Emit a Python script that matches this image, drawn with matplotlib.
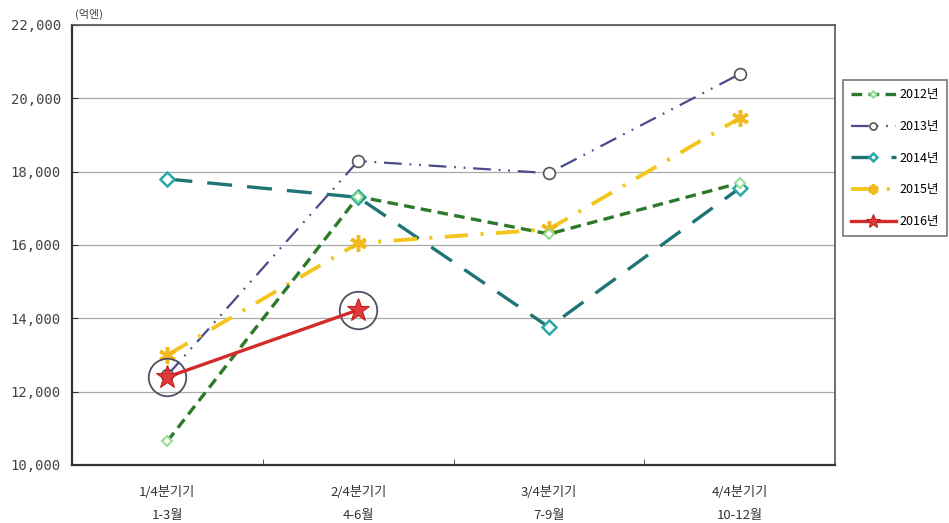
import matplotlib
matplotlib.use("Agg")
import matplotlib.pyplot as plt
from matplotlib.ticker import FuncFormatter

plt.rcParams['font.family'] = ['Noto Sans CJK KR', 'DejaVu Sans']

quarters = ["1/4분기기\n1-3월", "2/4분기기\n4-6월", "3/4분기기\n7-9월", "4/4분기기\n10-12월"]
y2012 = [10650, 17320, 16300, 17690]
y2013 = [12450, 18290, 17960, 20660]
y2014 = [17800, 17300, 13760, 17550]
y2015 = [13000, 16050, 16430, 19460]
y2016 = [12400, 14230]
yticks = [10000, 12000, 14000, 16000, 18000, 20000, 22000]

fig = plt.figure(figsize=(9.49, 5.23), dpi=100)
ax = fig.add_axes([0.0759, 0.1109, 0.8040, 0.8413])

x = list(range(len(quarters)))

ax.plot(x, y2012, color='#2b7a2b', lw=2.4, dashes=(3.2, 1.9),
        marker='D', ms=5.5, mfc='white', mec='#8fdc8f', mew=1.4,
        label='2012년', zorder=4)
ax.plot(x, y2013, color='#4a4a8c', lw=1.6, dashes=(8, 3.5, 0.8, 3.5, 0.8, 3.5),
        marker='o', ms=8.5, mfc='white', mec='#555555', mew=1.2,
        label='2013년', zorder=3)
ax.plot(x, y2014, color='#1f7474', lw=2.4, dashes=(7.5, 4.5),
        marker='D', ms=7, mfc='white', mec='#2aa8a8', mew=1.8,
        label='2014년', zorder=3)
ax.plot(x, y2015, color='#f2c61f', lw=2.8, dashes=(6, 3.2, 0.8, 3.2),
        marker=(6, 2, 0), ms=12, mfc='#f2b81f', mec='#f2b81f', mew=2.5,
        label='2015년', zorder=3)
ax.plot(x[:len(y2016)], y2016, color='#d42a2a', lw=2.4,
        marker='*', ms=17, mfc='#e23a3a', mec='#c02020', mew=0.8,
        label='2016년', zorder=6)
# highlight rings around the 2016 points
ax.plot(x[:len(y2016)], y2016, ls='none', marker='o', ms=27,
        mfc='none', mec='#505060', mew=1.3, zorder=5)

ax.set_xlim(-0.5, len(quarters) - 0.5)
ax.set_ylim(yticks[0], yticks[-1])
ax.set_yticks(yticks)
ax.yaxis.set_major_formatter(FuncFormatter(lambda v, p: f"{int(v):,}"))
ax.set_xticks(x)
ax.set_xticklabels(quarters, fontsize=9.5, color='#333333', linespacing=2.0)
ax.set_xticks([0.5, 1.5, 2.5], minor=True)
ax.tick_params(axis='x', which='major', length=0, pad=15)
ax.tick_params(axis='x', which='minor', length=4, direction='in', color='#333333')
ax.tick_params(axis='y', length=4, direction='in', color='#333333', pad=8)
for lab in ax.get_yticklabels():
    lab.set_fontfamily('DejaVu Sans Mono')
    lab.set_fontsize(10)
    lab.set_color('#444444')

ax.grid(axis='y', color='#aaaaaa', lw=0.9)
ax.set_axisbelow(True)
for side in ['left', 'bottom']:
    ax.spines[side].set_color('#333333')
    ax.spines[side].set_linewidth(1.6)
for side in ['top', 'right']:
    ax.spines[side].set_color('#555555')
    ax.spines[side].set_linewidth(1.2)

fig.text(0.079, 0.972, '(억엔)', fontsize=8, color='#444444', ha='left', va='center')

handles, labels = ax.get_legend_handles_labels()
leg = fig.legend(handles, labels, loc='upper left', bbox_to_anchor=(0.888, 0.847),
                 fontsize=9, frameon=True, fancybox=False, edgecolor='#555555',
                 handlelength=3.6, labelspacing=1.5, borderpad=0.65, handletextpad=0.3,
                 borderaxespad=0.0, markerscale=0.6)
leg.get_frame().set_linewidth(1.2)

fig.savefig('out.png', dpi=100)
